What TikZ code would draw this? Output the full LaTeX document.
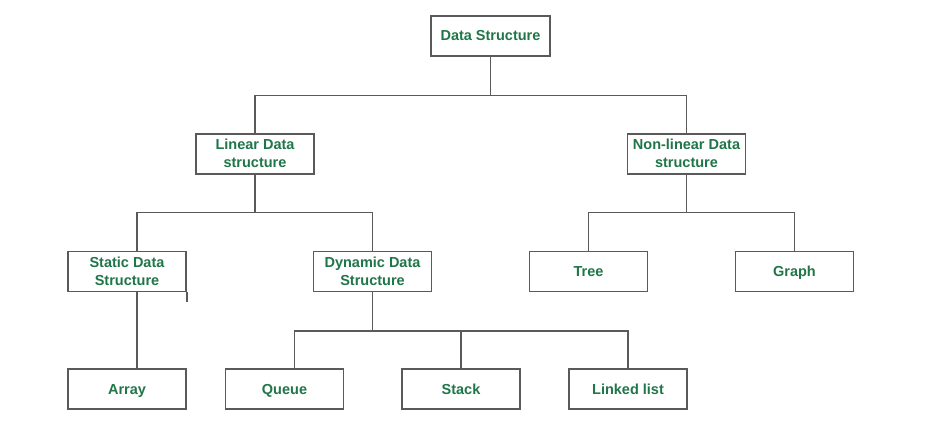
\documentclass[tikz,border=0pt]{standalone}
\usepackage{fontspec}
\setmainfont{Liberation Sans}
\usepackage{xcolor}
\usetikzlibrary{positioning}
\definecolor{ds-green}{RGB}{32,118,72}
\definecolor{ds-gray}{RGB}{90,90,90}

\begin{document}
\begin{tikzpicture}[x=1pt, y=-1pt]
				\tikzset{dsbox/.style={rectangle, draw=ds-gray, line width=1.5pt, minimum width=118pt, minimum height=40pt, inner sep=1pt, align=center, text=ds-green, font=\fontsize{14.5}{18}\selectfont\bfseries}}
				\tikzset{oneline/.style={dsbox, text height=13pt, text depth=3pt}}
				\tikzset{twoline/.style={dsbox, text height=31pt, text depth=3pt}}
				\tikzset{conn/.style={draw=ds-gray, line width=1.5pt}}
				
				\fill[white] (0,0) rectangle (946,422);
				\useasboundingbox (0,0) rectangle (946,422);
				
				\node[oneline, minimum width=119pt] at (490.5,36) (ds) {Data Structure};
				\node[twoline] at (255,154) (lin) {Linear Data\\structure};
				\node[twoline] at (686.5,154) (nonlin) {Non-linear Data\\structure};
				
				\node[twoline] at (127,271.5) (sta) {Static Data\\Structure};
				\node[twoline] at (372.5,271.5) (dyn) {Dynamic Data\\Structure};
				\node[oneline] at (588.5,271.5) (tre) {Tree};
				\node[oneline] at (794.5,271.5) (gra) {Graph};
				
				\node[oneline] at (127,389) (arr) {Array};
				\node[oneline] at (284.5,389) (que) {Queue};
				\node[oneline] at (461,389) (stk) {Stack};
				\node[oneline] at (628,389) (lnk) {Linked list};
				
				\draw[conn] (ds.south) -- ++(0,39) coordinate (top bus);
				\draw[conn] (lin.north) |- (top bus) -| (nonlin.north);
				
				\draw[conn] (lin.south) -- ++(0,38) coordinate (lin bus);
				\draw[conn] ([xshift=10pt]sta.north) |- (lin bus) -| (dyn.north);
				\draw[conn] ([xshift=10pt]sta.south) -- ([xshift=10pt]arr.north);
				\draw[conn] (sta.south east) -- ++(0,10);
				
				\draw[conn] (dyn.south) -- ++(0,39) coordinate (dyn bus);
				\draw[conn] ([xshift=10pt]que.north) |- (dyn bus) -| (lnk.north);
				\draw[conn] (stk.north) -- (stk.north |- dyn bus);
				
				\draw[conn] (nonlin.south) -- ++(0,38) coordinate (nonlin bus);
				\draw[conn] (tre.north) |- (nonlin bus) -| (gra.north);
			\end{tikzpicture}
\end{document}
